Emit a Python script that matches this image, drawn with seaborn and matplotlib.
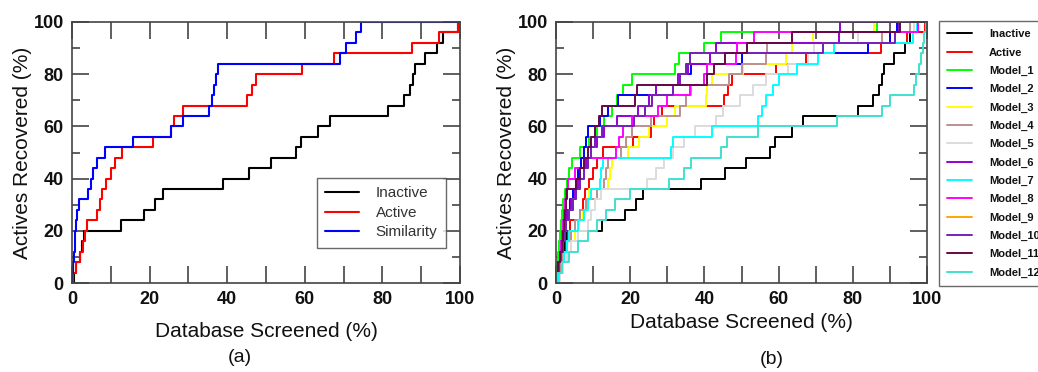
#!/usr/bin/env python3
"""
Enrichment curves: (a) Inactive / Active / Similarity, (b) Inactive / Active / Model_1..12.
Each series is the list of database positions (%) at which the 25 actives were hit.
"""
import matplotlib
matplotlib.use("Agg")
import matplotlib.pyplot as plt
import numpy as np
import pandas as pd
import seaborn as sns

# === Data (database screened % at each active hit, 25 actives) ===
N_ACTIVES = 25

INACTIVE = [0.5, 1.0, 2.0, 2.5, 3.0, 12.5, 18.5, 21.5, 23.5, 39.0, 45.5, 51.2, 57.8,
            59.0, 63.5, 66.5, 81.5, 85.5, 87.0, 87.8, 88.5, 91.0, 94.0, 95.5, 99.6]
ACTIVE = [0.3, 1.0, 2.0, 2.8, 3.3, 3.8, 6.5, 7.2, 7.8, 8.8, 10.0, 11.0, 12.8,
          20.8, 25.5, 26.3, 28.6, 45.2, 46.3, 47.5, 59.3, 67.5, 87.5, 94.6, 99.5]
SIMILARITY = [0.1, 0.3, 0.5, 0.7, 0.9, 1.1, 1.4, 1.8, 4.2, 4.8, 5.4, 6.4, 8.6,
              15.8, 25.6, 28.6, 35.4, 36.0, 36.6, 37.1, 37.6, 69.2, 70.5, 73.2, 74.6]

MODEL_1 = [0.2, 0.4, 0.6, 0.8, 1.0, 1.3, 1.6, 2.0, 2.4, 3.0, 3.6, 4.2, 6.5,
           9.0, 11.0, 13.0, 15.0, 16.5, 18.0, 20.5, 32.0, 33.2, 39.8, 44.5, 86.5]
MODEL_2 = [0.3, 0.6, 1.0, 1.4, 1.8, 2.3, 3.0, 3.8, 4.5, 5.3, 6.0, 6.8, 7.5,
           8.0, 8.6, 11.8, 14.0, 16.8, 27.0, 33.5, 36.5, 50.0, 84.0, 90.0, 92.0]
MODEL_3 = [0.5, 1.0, 2.0, 3.0, 5.0, 6.3, 7.3, 8.0, 8.8, 14.0, 14.6, 15.2, 19.5,
           22.5, 25.0, 30.0, 32.2, 40.4, 40.7, 42.0, 50.5, 62.0, 63.5, 69.4, 85.8]
MODEL_4 = [0.6, 1.2, 2.0, 3.0, 4.0, 5.0, 6.5, 8.0, 11.0, 13.0, 13.5, 14.0, 17.5,
           19.0, 20.5, 25.5, 33.5, 35.0, 36.5, 46.5, 50.0, 56.5, 57.0, 88.0, 95.5]
MODEL_5 = [1.0, 2.0, 3.0, 4.0, 6.0, 8.5, 9.5, 10.5, 12.0, 24.5, 27.0, 29.0, 31.5,
           34.5, 37.5, 43.0, 45.0, 49.5, 53.0, 56.5, 62.5, 68.0, 69.5, 81.5, 96.5]
MODEL_6 = [0.3, 0.7, 1.0, 1.5, 2.0, 2.5, 3.0, 4.0, 5.0, 6.0, 6.5, 8.0, 9.5,
           11.0, 13.0, 16.5, 22.0, 25.0, 27.0, 33.0, 35.5, 41.5, 43.0, 76.2, 76.6]
MODEL_7 = [0.8, 1.5, 2.2, 3.0, 3.5, 5.8, 7.5, 8.5, 9.5, 11.8, 12.2, 12.6, 31.0,
           31.5, 42.0, 54.5, 55.5, 56.5, 58.5, 60.0, 65.0, 70.5, 74.8, 96.3, 97.3]
MODEL_8 = [0.3, 0.6, 1.0, 1.3, 1.6, 1.9, 2.2, 2.5, 2.8, 3.2, 5.0, 7.5, 16.2,
           17.0, 18.0, 20.5, 27.5, 30.0, 36.0, 40.0, 40.6, 48.6, 48.8, 53.5, 97.5]
MODEL_9 = [0.4, 0.8, 1.3, 1.8, 2.3, 2.8, 3.5, 4.5, 5.5, 6.5, 7.5, 8.5, 9.5,
           10.5, 12.5, 21.0, 24.0, 26.0, 31.5, 33.5, 35.0, 36.0, 72.0, 91.5, 92.5]
MODEL_10 = [0.4, 0.8, 1.3, 1.8, 2.3, 2.8, 3.5, 4.5, 5.5, 6.5, 7.5, 8.5, 9.5,
            10.5, 12.5, 21.0, 24.0, 26.0, 31.5, 33.5, 35.0, 36.0, 72.0, 91.5, 92.5]
MODEL_11 = [0.3, 0.6, 1.0, 1.5, 1.8, 2.2, 2.5, 2.8, 3.0, 5.5, 6.5, 7.5, 8.5,
            9.5, 10.5, 11.5, 12.3, 21.3, 21.8, 40.6, 42.5, 45.5, 51.4, 63.6, 92.8]
MODEL_12 = [0.3, 1.5, 3.5, 6.0, 8.5, 11.0, 13.5, 16.0, 20.0, 30.5, 34.5, 36.5, 44.5,
            46.0, 54.5, 75.7, 88.0, 90.0, 96.5, 97.0, 97.8, 98.3, 98.8, 99.3, 99.8]

PANEL_A = {"Inactive": INACTIVE, "Active": ACTIVE, "Similarity": SIMILARITY}
PANEL_B = {"Inactive": INACTIVE, "Active": ACTIVE,
           "Model_1": MODEL_1, "Model_2": MODEL_2, "Model_3": MODEL_3,
           "Model_4": MODEL_4, "Model_5": MODEL_5, "Model_6": MODEL_6,
           "Model_7": MODEL_7, "Model_8": MODEL_8, "Model_9": MODEL_9,
           "Model_10": MODEL_10, "Model_11": MODEL_11, "Model_12": MODEL_12}

# xmgrace default palette
COLORS = {"Inactive": "#000000", "Active": "#ff0000", "Similarity": "#0000ff",
          "Model_1": "#00ff00", "Model_2": "#0000ff", "Model_3": "#ffff00",
          "Model_4": "#bc8f8f", "Model_5": "#dcdcdc", "Model_6": "#9400d3",
          "Model_7": "#00ffff", "Model_8": "#ff00ff", "Model_9": "#ffa500",
          "Model_10": "#7221bc", "Model_11": "#670748", "Model_12": "#40e0d0"}

# === Style ===
sns.set_theme(style="ticks")
plt.rcParams["font.family"] = ["Liberation Sans", "DejaVu Sans"]
plt.rcParams.update({
    "axes.linewidth": 1.2,
    "axes.edgecolor": "#444444",
    "text.color": "#111111",
    "axes.labelcolor": "#111111",
    "xtick.color": "#444444",
    "ytick.color": "#444444",
    "xtick.labelcolor": "#111111",
    "ytick.labelcolor": "#111111",
})

W, H = 1038, 372


def to_long(panel):
    rows = []
    for name, hits in panel.items():
        xs = [0.0] + list(hits) + [100.0]
        ys = [0.0] + [100.0 * (i + 1) / N_ACTIVES for i in range(len(hits))] + [100.0]
        rows.append(pd.DataFrame({"x": xs, "y": ys, "series": name}))
    return pd.concat(rows, ignore_index=True)


def style_axes(ax, xlabel_pad):
    ax.set_xlim(0, 100)
    ax.set_ylim(0, 100)
    ax.set_xticks(np.arange(0, 101, 20))
    ax.set_xticks(np.arange(0, 101, 10), minor=True)
    ax.set_yticks(np.arange(0, 101, 20))
    ax.set_yticks(np.arange(0, 101, 10), minor=True)
    ax.tick_params(which="both", direction="in", top=True, right=True,
                   width=1.2, labelsize=13, pad=6)
    ax.tick_params(axis="x", which="both", length=12)
    ax.tick_params(axis="y", which="major", length=12)
    ax.tick_params(axis="y", which="minor", length=6)
    for lab in ax.get_xticklabels() + ax.get_yticklabels():
        lab.set_fontweight("bold")
    ax.set_xlabel("Database Screened (%)", fontsize=15, labelpad=xlabel_pad)
    ax.set_ylabel("Actives Recovered (%)", fontsize=15, labelpad=1)


def draw_panel(ax, panel, lw):
    df = to_long(panel)
    names = list(panel.keys())
    sns.lineplot(data=df, x="x", y="y", hue="series", hue_order=names,
                 palette=COLORS, estimator=None, sort=False,
                 drawstyle="steps-post", linewidth=lw, legend=False, ax=ax)
    return names


fig = plt.figure(figsize=(W / 100, H / 100), dpi=100)
ax_a = fig.add_axes([72 / W, 89 / H, 388 / W, 261 / H])
ax_b = fig.add_axes([556 / W, 89 / H, 371 / W, 261 / H])

# (a)
names_a = draw_panel(ax_a, PANEL_A, 1.5)
style_axes(ax_a, 10)
leg_a = ax_a.legend(handles=ax_a.lines, labels=names_a, loc="upper left",
                    bbox_to_anchor=((317 - 72) / 388, (283 - 178) / 261),
                    borderaxespad=0, fontsize=11, frameon=True, fancybox=False,
                    handlelength=2.2, handletextpad=1.1, labelspacing=0.36,
                    borderpad=0.55)
leg_a.get_frame().set_edgecolor("#444444")
leg_a.get_frame().set_linewidth(1.0)
for t in leg_a.get_texts():
    t.set_color("#333333")

# (b)
names_b = draw_panel(ax_b, PANEL_B, 1.4)
style_axes(ax_b, 3)
leg_b = ax_b.legend(handles=ax_b.lines, labels=names_b, loc="upper left",
                    bbox_to_anchor=(939 / W, 1 - 21 / H), bbox_transform=fig.transFigure,
                    borderaxespad=0, frameon=True, fancybox=False,
                    handlelength=2.25, handletextpad=1.5, labelspacing=0.74,
                    borderpad=0.75, prop={"weight": "bold", "size": 8})
leg_b.get_frame().set_edgecolor("#444444")
leg_b.get_frame().set_linewidth(1.0)

fig.text(240 / W, 1 - 358 / H, "(a)", ha="center", va="center", fontsize=14)
fig.text(772 / W, 1 - 360 / H, "(b)", ha="center", va="center", fontsize=14)

fig.savefig("out.png", dpi=100)
plt.close(fig)
